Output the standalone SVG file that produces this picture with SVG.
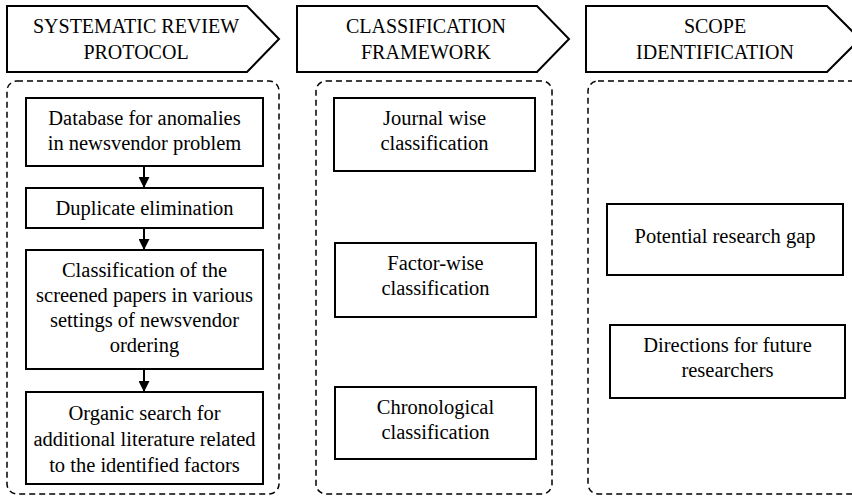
<svg xmlns="http://www.w3.org/2000/svg" width="852" height="497" viewBox="0 0 852 497">
<style>
.hdr{fill:#fff;stroke:#000;stroke-width:2}
.dash{fill:none;stroke:#000;stroke-width:1.5;stroke-dasharray:6 4}
.box{fill:#fff;stroke:#000;stroke-width:2}
text{fill:#000;text-anchor:middle}
.h{font-size:20px}
.t{font-size:20.5px}
.conn line{stroke:#000;stroke-width:2}
</style>
<defs>
<marker id="ah" viewBox="0 0 10 10" refX="10" refY="5" markerWidth="11" markerHeight="11" markerUnits="userSpaceOnUse" orient="auto">
<path d="M0,0 L10,5 L0,10 z" fill="#000"/>
</marker>
</defs>
<rect width="852" height="497" fill="#fff"/>
<g font-family="'Liberation Serif', 'Times New Roman', Tinos, 'DejaVu Serif', serif">
<g id="header1"><polygon class="hdr" points="7,6 247,6 279,39 247,72 7,72"/><text class="h" x="136" y="33">SYSTEMATIC REVIEW</text><text class="h" x="136" y="59">PROTOCOL</text></g>
<g id="header2"><polygon class="hdr" points="297,6 537,6 569,39 537,72 297,72"/><text class="h" x="426" y="33">CLASSIFICATION</text><text class="h" x="426" y="59">FRAMEWORK</text></g>
<g id="header3"><polygon class="hdr" points="586,6 827,6 860,39 827,72 586,72"/><text class="h" x="715" y="33">SCOPE</text><text class="h" x="715" y="59">IDENTIFICATION</text></g>
<g id="panel1"><rect class="dash" x="7" y="81" width="272" height="413" rx="10"/></g>
<g id="panel2"><rect class="dash" x="316" y="81" width="236" height="413" rx="10"/></g>
<g id="panel3"><rect class="dash" x="588" y="81" width="290" height="413" rx="10"/></g>
<g id="n1"><rect class="box" x="26" y="98" width="237" height="68"/><text class="t" x="144.5" y="125">Database for anomalies</text><text class="t" x="144.5" y="150">in newsvendor problem</text></g>
<g id="n2"><rect class="box" x="26" y="188" width="237" height="40"/><text class="t" x="144.5" y="215">Duplicate elimination</text></g>
<g id="n3"><rect class="box" x="26" y="250" width="237" height="119"/><text class="t" x="144.5" y="277">Classification of the</text><text class="t" x="144.5" y="302">screened papers in various</text><text class="t" x="144.5" y="327">settings of newsvendor</text><text class="t" x="144.5" y="352">ordering</text></g>
<g id="n4"><rect class="box" x="26" y="392" width="237" height="92"/><text class="t" x="144.5" y="420">Organic search for</text><text class="t" x="144.5" y="446">additional literature related</text><text class="t" x="144.5" y="472">to the identified factors</text></g>
<g id="n5"><rect class="box" x="334" y="98" width="201" height="73"/><text class="t" x="434.5" y="125">Journal wise</text><text class="t" x="434.5" y="150">classification</text></g>
<g id="n6"><rect class="box" x="335" y="243" width="201" height="74"/><text class="t" x="435.5" y="270">Factor-wise</text><text class="t" x="435.5" y="295">classification</text></g>
<g id="n7"><rect class="box" x="335" y="387" width="201" height="72"/><text class="t" x="435.5" y="414">Chronological</text><text class="t" x="435.5" y="439">classification</text></g>
<g id="n8"><rect class="box" x="607" y="204" width="236" height="71"/><text class="t" x="725" y="243">Potential research gap</text></g>
<g id="n9"><rect class="box" x="610" y="325" width="235" height="73"/><text class="t" x="727.5" y="352">Directions for future</text><text class="t" x="727.5" y="377">researchers</text></g>
</g>
<g id="connectors" class="conn">
<line x1="144" y1="166" x2="144" y2="188" marker-end="url(#ah)"/>
<line x1="144" y1="228" x2="144" y2="250" marker-end="url(#ah)"/>
<line x1="144" y1="369" x2="144" y2="392" marker-end="url(#ah)"/>
</g>
</svg>
